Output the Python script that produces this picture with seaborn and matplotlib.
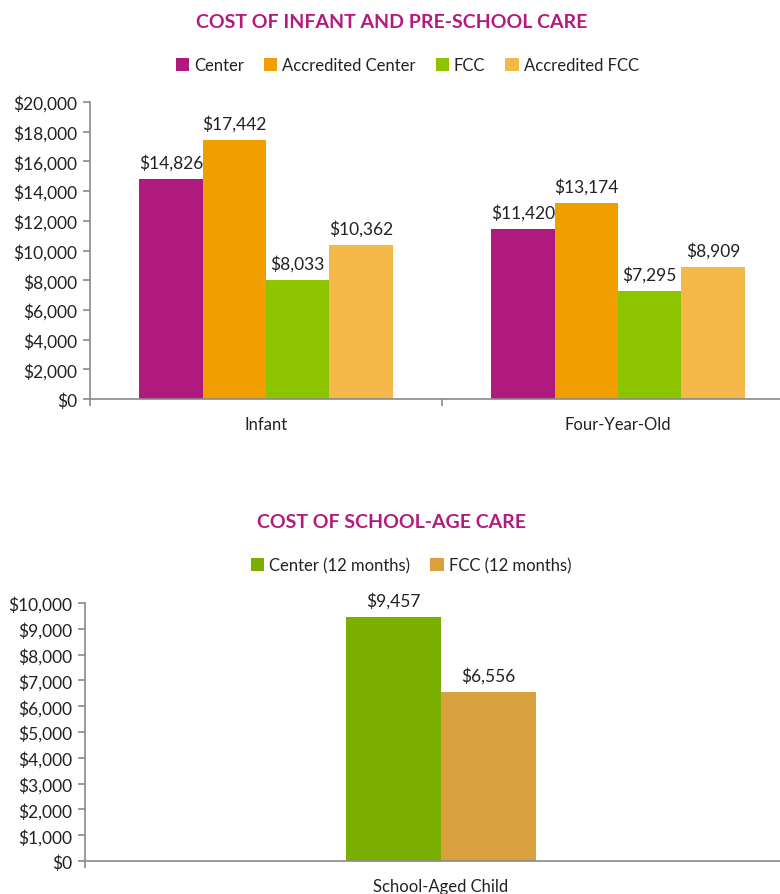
import matplotlib
matplotlib.use("Agg")
import matplotlib.pyplot as plt
import seaborn as sns
import pandas as pd
from matplotlib.ticker import FuncFormatter, FixedLocator

# ---- data ----
age_groups = ["Infant", "Four-Year-Old"]
care_types = ["Center", "Accredited Center", "FCC", "Accredited FCC"]
center = [14826, 11420]
accredited_center = [17442, 13174]
fcc = [8033, 7295]
accredited_fcc = [10362, 8909]

school_group = ["School-Aged Child"]
school_types = ["Center (12 months)", "FCC (12 months)"]
school_center = [9457]
school_fcc = [6556]

top_colors = ["#B0197E", "#F09E00", "#8CC400", "#F4B84A"]
bot_colors = ["#7AAF00", "#D9A03E"]
title_color = "#B5197E"

sns.set_theme(style="white")
plt.rcParams["font.family"] = ["Lato", "DejaVu Sans"]

rows = []
for ser_name, vals in zip(care_types, [center, accredited_center, fcc, accredited_fcc]):
    for g, v in zip(age_groups, vals):
        rows.append({"group": g, "type": ser_name, "cost": v})
df_top = pd.DataFrame(rows)

rows = []
for ser_name, vals in zip(school_types, [school_center, school_fcc]):
    for g, v in zip(school_group, vals):
        rows.append({"group": g, "type": ser_name, "cost": v})
df_bot = pd.DataFrame(rows)

fig = plt.figure(figsize=(7.8, 8.95), dpi=100)
W, H = 780, 895

def axes_px(left, top, right, bottom):
    return fig.add_axes([left / W, 1 - bottom / H, (right - left) / W, (bottom - top) / H])

ax1 = axes_px(90, 103, 794, 400)
ax2 = axes_px(85, 604, 797, 862)

money = FuncFormatter(lambda v, p: f"${v:,.0f}")
tick_color = "#222222"
spine_color = "#8a8a8a"
FS = 12.5

def style(ax, ymax, step, ncat):
    ax.set_ylim(0, ymax)
    ax.set_xlim(-0.5, ncat - 0.5)
    ax.yaxis.set_major_locator(FixedLocator([i * step for i in range(int(ymax / step) + 1)]))
    ax.yaxis.set_major_formatter(money)
    for s in ["top", "right"]:
        ax.spines[s].set_visible(False)
    for s in ["left", "bottom"]:
        ax.spines[s].set_color(spine_color)
        ax.spines[s].set_linewidth(1.2)
    ax.tick_params(axis="y", left=True, length=5, width=1.2, color=spine_color,
                   labelsize=FS, labelcolor=tick_color, pad=4)
    ax.tick_params(axis="x", bottom=False, labelsize=12, labelcolor=tick_color, pad=6)
    ax.set_xticks(range(ncat))
    ax.xaxis.set_minor_locator(FixedLocator([i - 0.5 for i in range(ncat + 1)]))
    ax.tick_params(axis="x", which="minor", bottom=True, length=5, width=1.2, color=spine_color)
    ax.set_xlabel("")
    ax.set_ylabel("")
    ax.grid(False)

sns.barplot(data=df_top, x="group", y="cost", hue="type", order=age_groups,
            hue_order=care_types, palette=top_colors, width=0.72, gap=0,
            saturation=1, ax=ax1, legend=True, errorbar=None, linewidth=0)
sns.barplot(data=df_bot, x="group", y="cost", hue="type", order=school_group,
            hue_order=school_types, palette=bot_colors, width=0.268, gap=0,
            saturation=1, ax=ax2, legend=True, errorbar=None, linewidth=0)

style(ax1, 20000, 2000, 2)
style(ax2, 10000, 1000, 1)

for ax in (ax1, ax2):
    for c in ax.containers:
        ax.bar_label(c, labels=[f"${v:,.0f}" for v in c.datavalues], padding=6,
                     fontsize=FS, color=tick_color)

def legend_for(ax, x, y, ncol):
    h, l = ax.get_legend_handles_labels()
    ax.get_legend().remove()
    fig.legend(h, l, loc="center", bbox_to_anchor=(x, 1 - y / H), ncol=ncol,
               frameon=False, fontsize=12, handlelength=0.8, handleheight=0.8,
               handletextpad=0.3, columnspacing=1.2, labelcolor=tick_color)

legend_for(ax1, 0.522, 66, 4)
legend_for(ax2, 0.527, 566, 2)

fig.text(0.502, 1 - 22 / H, "COST OF INFANT AND PRE-SCHOOL CARE", ha="center", va="center",
         fontsize=14, fontweight="bold", color=title_color)
fig.text(0.502, 1 - 522 / H, "COST OF SCHOOL-AGE CARE", ha="center", va="center",
         fontsize=14, fontweight="bold", color=title_color)

fig.savefig("out.png", dpi=100)
